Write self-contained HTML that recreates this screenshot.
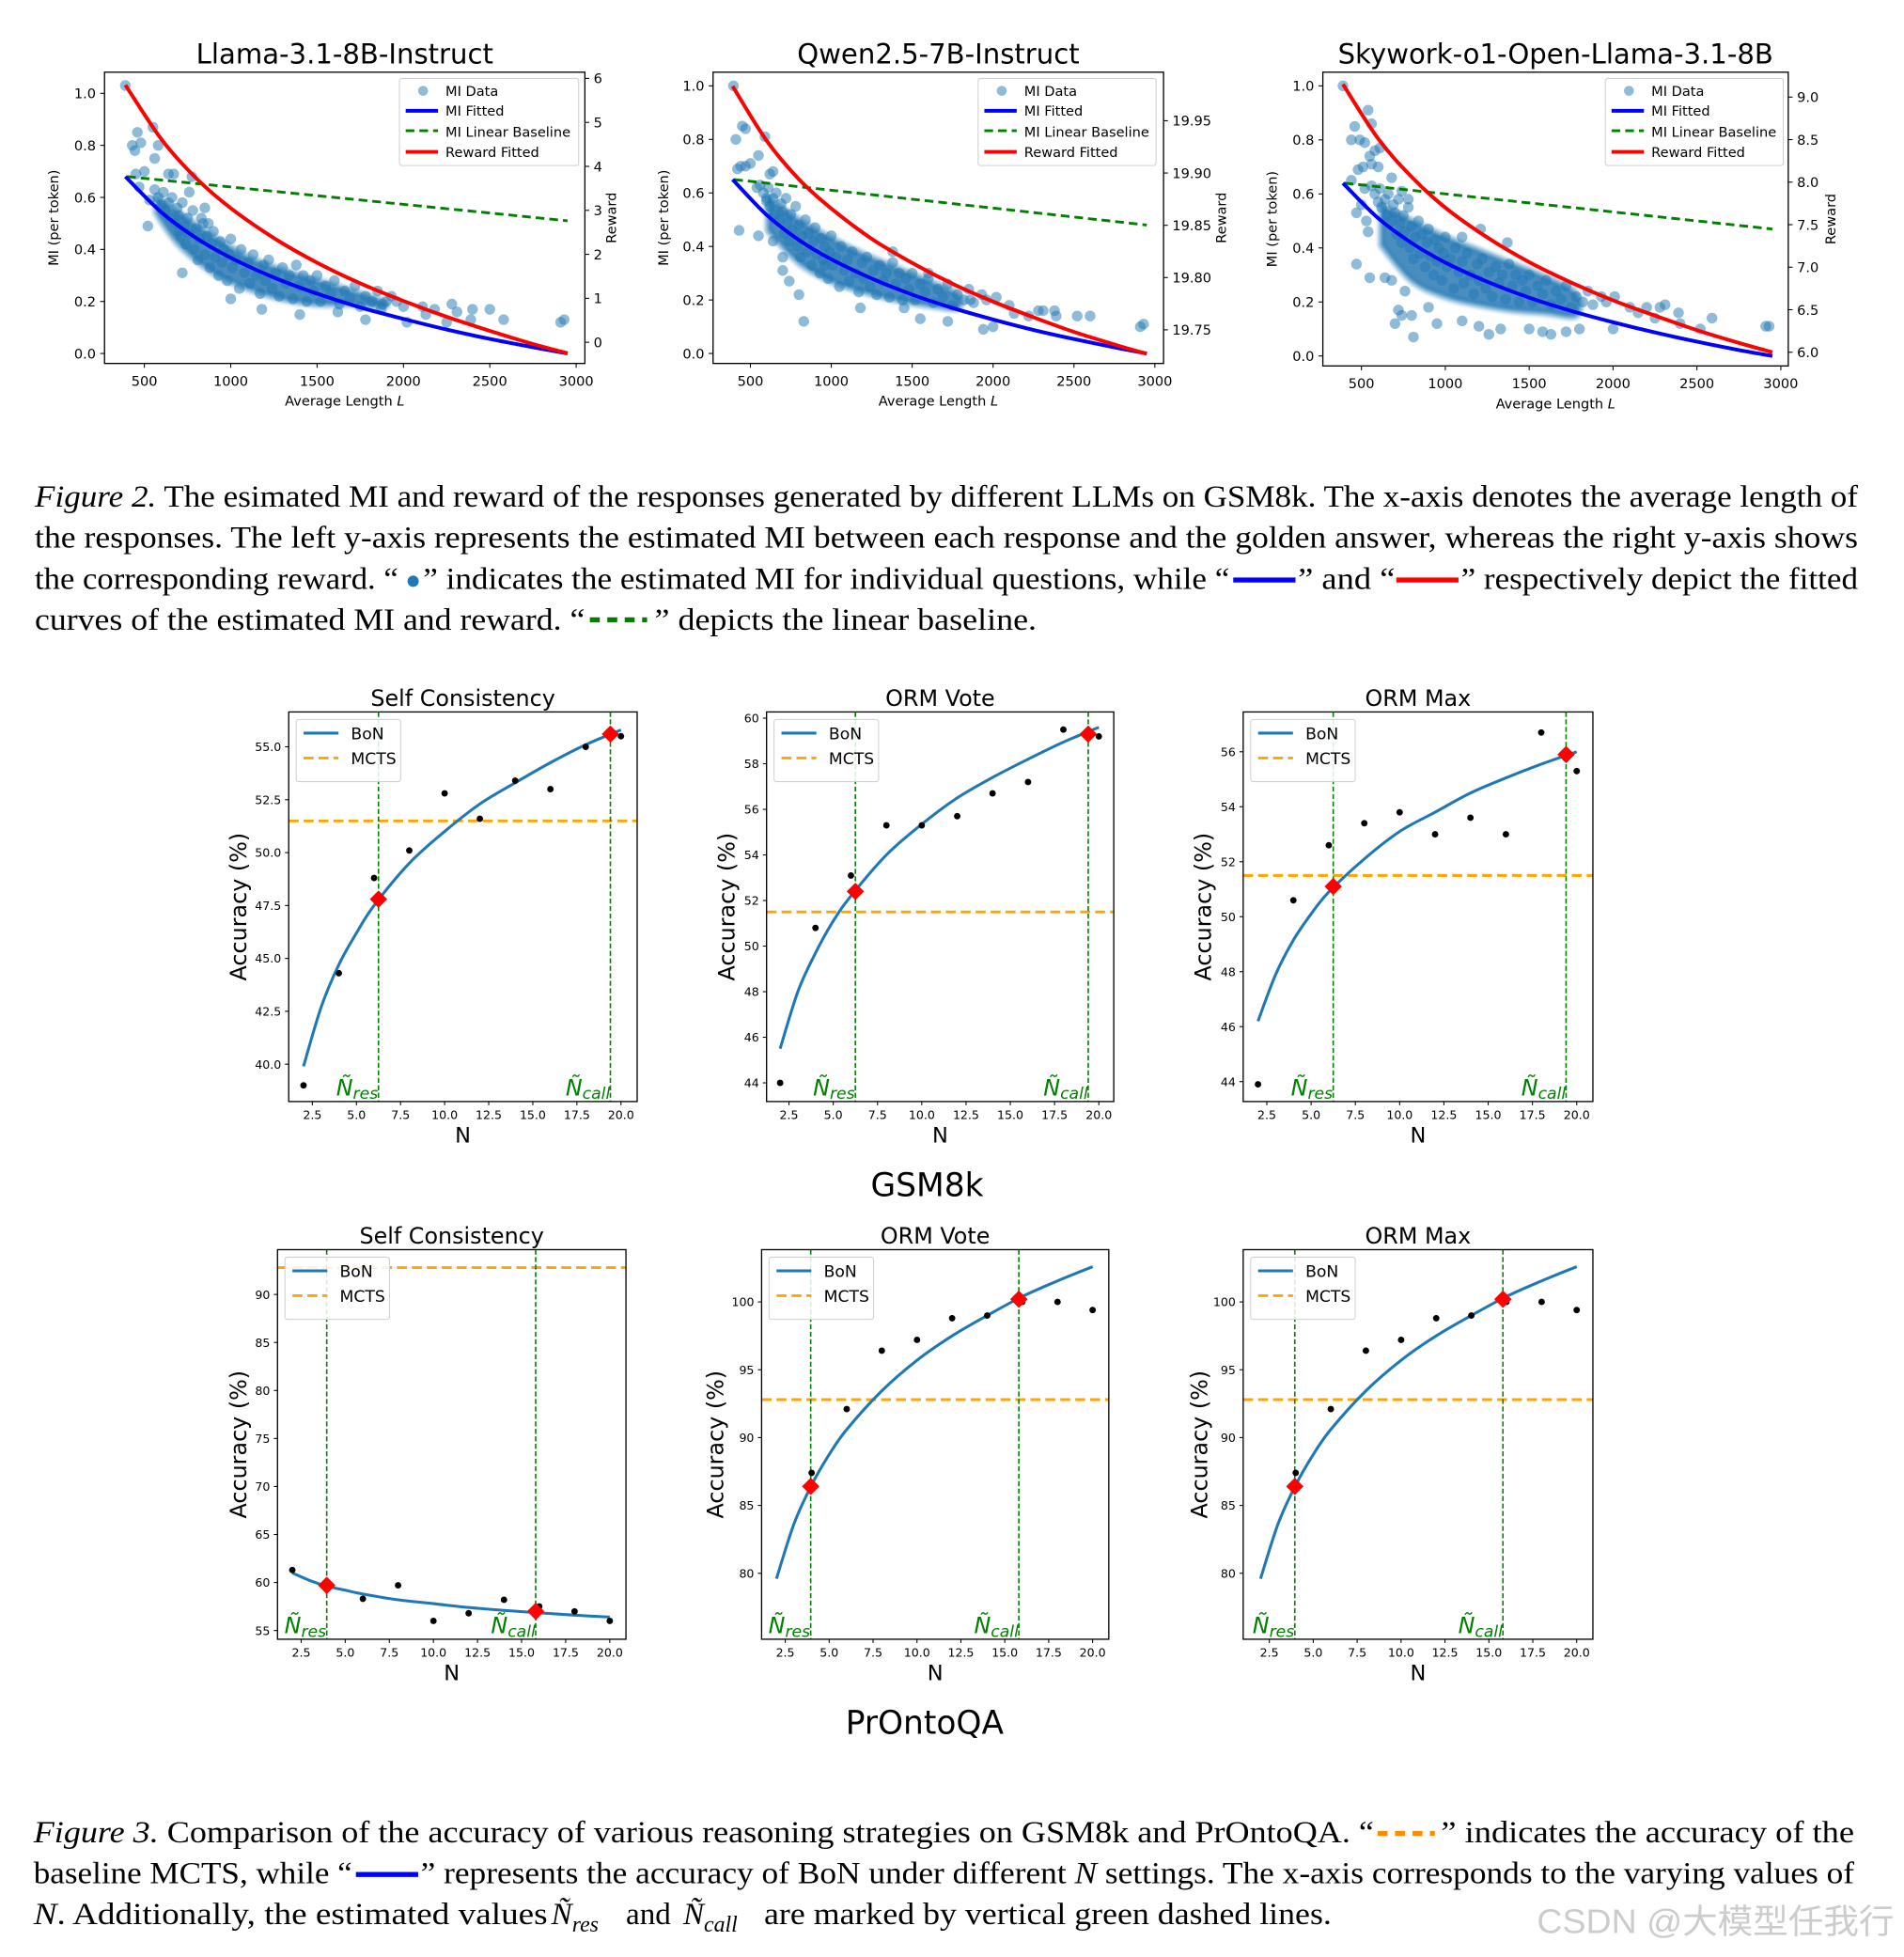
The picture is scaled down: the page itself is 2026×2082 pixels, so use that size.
<!DOCTYPE html>
<html><head><meta charset="utf-8">
<style>
html,body{margin:0;padding:0;background:#fff;}
svg{display:block;}
.tk{font-family:"DejaVu Sans","Liberation Sans",sans-serif;fill:#000;}
.cap{font-family:"Liberation Serif","DejaVu Serif",serif;font-size:25px;fill:#000;}
</style></head>
<body>
<svg id="fig" xmlns="http://www.w3.org/2000/svg" width="2026" height="2082" viewBox="0 0 1530 1572.3" preserveAspectRatio="none">
<defs><filter id="soft" x="-10%" y="-10%" width="120%" height="120%"><feGaussianBlur stdDeviation="1.2"/></filter></defs>
<rect x="0" y="0" width="1530" height="1573" fill="#fff"/>
<g id="captions">
  <text class="cap" x="28" y="407" textLength="1465" lengthAdjust="spacingAndGlyphs"><tspan font-style="italic">Figure 2.</tspan> The esimated MI and reward of the responses generated by different LLMs on GSM8k. The x-axis denotes the average length of</text>
  <text class="cap" x="28" y="440" textLength="1465" lengthAdjust="spacingAndGlyphs">the responses. The left y-axis represents the estimated MI between each response and the golden answer, whereas the right y-axis shows</text>
  <text class="cap" x="28" y="473" textLength="292" lengthAdjust="spacingAndGlyphs">the corresponding reward. “</text>
  <circle cx="332" cy="467" r="4.5" fill="#1f77b4"/>
  <text class="cap" x="340" y="473" textLength="648" lengthAdjust="spacingAndGlyphs">” indicates the estimated MI for individual questions, while “</text>
  <rect x="991" y="464" width="50" height="4" fill="#0000ff"/>
  <text class="cap" x="1043" y="473" textLength="78" lengthAdjust="spacingAndGlyphs">” and “</text>
  <rect x="1122" y="464" width="50" height="4" fill="#ff0000"/>
  <text class="cap" x="1174" y="473" textLength="319" lengthAdjust="spacingAndGlyphs">” respectively depict the fitted</text>
  <text class="cap" x="28" y="506" textLength="442" lengthAdjust="spacingAndGlyphs">curves of the estimated MI and reward. “</text>
  <line x1="474" y1="498" x2="520" y2="498" stroke="#008000" stroke-width="4" stroke-dasharray="8,6"/>
  <text class="cap" x="526" y="506" textLength="307" lengthAdjust="spacingAndGlyphs">” depicts the linear baseline.</text>

  <text class="cap" x="27" y="1480" textLength="1077" lengthAdjust="spacingAndGlyphs"><tspan font-style="italic">Figure 3.</tspan> Comparison of the accuracy of various reasoning strategies on GSM8k and PrOntoQA. “</text>
  <line x1="1107" y1="1473" x2="1153" y2="1473" stroke="#ff8c00" stroke-width="4" stroke-dasharray="8,6"/>
  <text class="cap" x="1158" y="1480" textLength="332" lengthAdjust="spacingAndGlyphs">” indicates the accuracy of the</text>
  <text class="cap" x="27" y="1513" textLength="256" lengthAdjust="spacingAndGlyphs">baseline MCTS, while “</text>
  <rect x="286" y="1504" width="50" height="4" fill="#0000ff"/>
  <text class="cap" x="338" y="1513" textLength="1152" lengthAdjust="spacingAndGlyphs">” represents the accuracy of BoN under different <tspan font-style="italic">N</tspan> settings. The x-axis corresponds to the varying values of</text>
  <text class="cap" x="27" y="1546" textLength="413" lengthAdjust="spacingAndGlyphs"><tspan font-style="italic">N</tspan>. Additionally, the estimated values</text>
  <text class="cap" x="443" y="1546"><tspan font-style="italic">Ñ</tspan><tspan font-style="italic" font-size="18" dy="6">res</tspan></text>
  <text class="cap" x="503" y="1546">and</text>
  <text class="cap" x="549" y="1546"><tspan font-style="italic">Ñ</tspan><tspan font-style="italic" font-size="18" dy="6">call</tspan></text>
  <text class="cap" x="614" y="1546" textLength="456" lengthAdjust="spacingAndGlyphs">are marked by vertical green dashed lines.</text>
  <text x="1235" y="1553" textLength="287" lengthAdjust="spacingAndGlyphs" font-size="27" fill="#cccccc" font-family="'Liberation Sans','Noto Sans CJK SC',sans-serif">CSDN @大模型任我行</text>
  <text class="tk" x="745" y="961" font-size="26" text-anchor="middle">GSM8k</text>
  <text class="tk" x="743" y="1393" font-size="26" text-anchor="middle">PrOntoQA</text>
</g>
</svg>
<script>
// ================= DATA: top MI charts =================
const fitL = [390, 600, 800, 1000, 1250, 1500, 1750, 2000, 2250, 2500, 2750, 2950];
const llamaMIFit = [0.68, 0.542, 0.444, 0.368, 0.292, 0.230, 0.177, 0.133, 0.092, 0.056, 0.024, 0.0];
const llamaRewardFit = [5.85, 4.61, 3.73, 3.05, 2.37, 1.81, 1.34, 0.94, 0.58, 0.26, -0.04, -0.25];
const llamaBaselineL = [400, 2950];
const llamaBaselineMI = [0.68, 0.51];
const qwenMIFit = [0.65, 0.518, 0.424, 0.352, 0.28, 0.22, 0.17, 0.127, 0.088, 0.054, 0.023, 0.0];
const qwenRewardFit = [19.983, 19.931, 19.894, 19.866, 19.837, 19.814, 19.794, 19.777, 19.762, 19.748, 19.736, 19.727];
const qwenBaselineL = [400, 2950];
const qwenBaselineMI = [0.65, 0.48];
const skyMIFit = [0.64, 0.51, 0.418, 0.346, 0.275, 0.216, 0.167, 0.125, 0.087, 0.053, 0.022, 0.0];
const skyRewardFit = [9.15, 8.51, 8.06, 7.70, 7.35, 7.06, 6.82, 6.61, 6.43, 6.26, 6.11, 6.0];
const skyBaselineL = [400, 2950];
const skyBaselineMI = [0.64, 0.47];

const coreL = [560,580,600,610,620,640,650,660,680,690,700,710,720,730,740,750,760,780,790,800,810,820,840,850,860,880,890,900,910,930,940,950,960,980,990,1000,1010,1030,1050,1060,1080,1100,1110,1130,1150,1170,1190,1200,1220,1240,1260,1280,1300,1320,1340,1360,1380,1400,1420,1440,1460,1480,1500,1520,1550,1580,1600,1630,1660,1690,1720,1750,1780,1820,1850,1880,1930,1960];
const coreMI = [0.63,0.6,0.57,0.62,0.55,0.58,0.52,0.6,0.5,0.56,0.53,0.45,0.58,0.49,0.42,0.52,0.46,0.55,0.4,0.48,0.36,0.44,0.5,0.38,0.45,0.33,0.42,0.47,0.37,0.3,0.43,0.35,0.4,0.28,0.38,0.44,0.33,0.36,0.25,0.4,0.31,0.35,0.27,0.38,0.3,0.23,0.34,0.28,0.36,0.25,0.31,0.22,0.33,0.27,0.3,0.21,0.34,0.26,0.3,0.2,0.28,0.24,0.3,0.2,0.26,0.23,0.28,0.19,0.24,0.21,0.26,0.18,0.22,0.2,0.24,0.19,0.22,0.2];

const llamaOutL = [390,430,445,460,480,550,560,580,500,450,470,530,520,640,670,760,775,850,830,720,700,870,2000,2020,2110,2130,2180,2250,2280,2310,2390,2400,2500,2580,2910,2930,1780,1870,1900,1400,1180,1000,1620];
const llamaOutMI = [1.03,0.80,0.78,0.85,0.81,0.87,0.75,0.80,0.70,0.69,0.64,0.59,0.49,0.69,0.69,0.62,0.68,0.56,0.52,0.31,0.47,0.50,0.18,0.12,0.18,0.15,0.17,0.12,0.19,0.16,0.13,0.17,0.17,0.13,0.12,0.13,0.13,0.17,0.20,0.15,0.17,0.21,0.16];
const qwenOutL = [395,410,450,470,590,420,440,470,500,550,540,600,620,640,430,550,640,700,740,800,830,960,700,1180,1450,1550,1720,1940,2000,2020,2100,2130,2220,2280,2310,2380,2390,2520,2600,2910,2930,1380,1600,1860];
const qwenOutMI = [1.0,0.8,0.85,0.84,0.81,0.69,0.7,0.7,0.71,0.74,0.62,0.58,0.67,0.68,0.46,0.44,0.42,0.36,0.27,0.22,0.12,0.33,0.31,0.17,0.17,0.13,0.12,0.09,0.1,0.21,0.18,0.15,0.14,0.16,0.16,0.16,0.14,0.14,0.14,0.1,0.11,0.38,0.3,0.2];
const skyOutL = [390,440,460,490,520,540,560,580,610,550,560,600,480,510,520,470,440,500,530,540,470,550,640,680,700,740,800,810,720,760,680,740,780,900,950,1100,1200,1260,1330,1500,1580,1630,1720,1800,2000,2010,2100,2150,2200,2250,2280,2310,2390,2400,2520,2590,2910,2930,1100,1210,1370];
const skyOutMI = [1.0,0.8,0.85,0.8,0.79,0.91,0.86,0.76,0.77,0.74,0.71,0.7,0.69,0.7,0.62,0.53,0.65,0.56,0.5,0.46,0.34,0.29,0.29,0.28,0.12,0.15,0.15,0.07,0.17,0.24,0.66,0.61,0.58,0.18,0.12,0.13,0.11,0.08,0.1,0.1,0.09,0.08,0.09,0.1,0.1,0.22,0.18,0.16,0.18,0.14,0.18,0.19,0.16,0.12,0.1,0.14,0.11,0.11,0.44,0.47,0.42];

// density band of the dense cloud (upper edge then lower edge)
const llamaBandL = [570,700,900,1100,1300,1500,1700,1880,1880,1700,1500,1300,1100,900,700,570];
const llamaBandMI = [0.6,0.54,0.45,0.37,0.32,0.28,0.24,0.2,0.18,0.19,0.19,0.21,0.25,0.31,0.42,0.54];
const qwenBandL = [610,800,1000,1200,1400,1600,1780,1780,1600,1400,1200,1000,800,610];
const qwenBandMI = [0.58,0.5,0.43,0.37,0.32,0.27,0.22,0.17,0.18,0.2,0.23,0.27,0.34,0.46];
const skyBandL = [620,800,1000,1200,1400,1600,1780,1780,1600,1400,1200,1000,800,620];
const skyBandMI = [0.56,0.5,0.44,0.39,0.34,0.29,0.23,0.15,0.16,0.17,0.19,0.22,0.28,0.41];

const topXTicks = [500, 1000, 1500, 2000, 2500, 3000];
const topMITicks = [0.0, 0.2, 0.4, 0.6, 0.8, 1.0];
const llamaRewardTicks = [0, 1, 2, 3, 4, 5, 6];
const qwenRewardTicks = [19.75, 19.80, 19.85, 19.90, 19.95];
const skyRewardTicks = [6.0, 6.5, 7.0, 7.5, 8.0, 8.5, 9.0];

// ================= DATA: bottom accuracy charts =================
const nValues = [2, 4, 6, 8, 10, 12, 14, 16, 18, 20];
const fitN = [2, 3, 4, 5, 6, 8, 10, 12, 14, 16, 18, 20];
const xTicksN = [2.5, 5.0, 7.5, 10.0, 12.5, 15.0, 17.5, 20.0];
const gsmSCDots = [39.0, 44.3, 48.8, 50.1, 52.8, 51.6, 53.4, 53.0, 55.0, 55.5];
const gsmSCFit = [39.9, 42.7, 44.7, 46.2, 47.5, 49.5, 51.0, 52.3, 53.3, 54.25, 55.1, 55.8];
const gsmSCTicks = [40.0, 42.5, 45.0, 47.5, 50.0, 52.5, 55.0];
const gsmVoteDots = [44.0, 50.8, 53.1, 55.3, 55.3, 55.7, 56.7, 57.2, 59.5, 59.2];
const gsmVoteFit = [45.5, 48.0, 49.7, 51.1, 52.2, 54.0, 55.35, 56.5, 57.4, 58.2, 58.95, 59.6];
const gsmVoteTicks = [44, 46, 48, 50, 52, 54, 56, 58, 60];
const gsmMaxDots = [43.9, 50.6, 52.6, 53.4, 53.8, 53.0, 53.6, 53.0, 56.7, 55.3];
const gsmMaxFit = [46.2, 47.9, 49.15, 50.1, 50.9, 52.1, 53.1, 53.8, 54.5, 55.05, 55.55, 56.0];
const gsmMaxTicks = [44, 46, 48, 50, 52, 54, 56];
const proSCDots = [61.3, 59.8, 58.3, 59.7, 56.0, 56.8, 58.2, 57.5, 57.0, 56.0];
const proSCFit = [61.0, 60.2, 59.6, 59.2, 58.8, 58.2, 57.8, 57.4, 57.1, 56.84, 56.6, 56.4];
const proSCTicks = [55, 60, 65, 70, 75, 80, 85, 90];
const proOrmN = [4, 6, 8, 10, 12, 14, 16, 18, 20];
const proOrmDots = [87.4, 92.1, 96.4, 97.2, 98.8, 99.0, 100.0, 100.0, 99.4];
const proOrmFit = [79.6, 83.65, 86.5, 88.75, 90.6, 93.45, 95.7, 97.5, 99.0, 100.4, 101.55, 102.6];
const proOrmTicks = [80, 85, 90, 95, 100];
const gsmMCTS = 51.5;
const proMCTS = 92.8;
const gsmNres = 6.25, gsmNcall = 19.4;
const proNres = 3.95, proNcall = 15.8;
const gsmSCDiamonds = [47.8, 55.6];
const gsmVoteDiamonds = [52.4, 59.3];
const gsmMaxDiamonds = [51.1, 55.9];
const proSCDiamonds = [59.7, 57.0];
const proOrmDiamonds = [86.4, 100.2];

// ================= rendering =================
const NS = 'http://www.w3.org/2000/svg';
const svg = document.getElementById('fig');
function mk(tag, attrs, parent, name, inter) {
  const e = document.createElementNS(NS, tag);
  for (const k in attrs) e.setAttribute(k, attrs[k]);
  
  
  (parent || svg).appendChild(e);
  return e;
}
function lin(d0, d1, p0, p1) { return v => p0 + (v - d0) * (p1 - p0) / (d1 - d0); }
function smoothPath(pts) {
  let d = 'M' + pts[0][0].toFixed(2) + ',' + pts[0][1].toFixed(2);
  for (let i = 0; i < pts.length - 1; i++) {
    const p0 = pts[i - 1] || pts[i], p1 = pts[i], p2 = pts[i + 1], p3 = pts[i + 2] || p2;
    const c1 = [p1[0] + (p2[0] - p0[0]) / 6, p1[1] + (p2[1] - p0[1]) / 6];
    const c2 = [p2[0] - (p3[0] - p1[0]) / 6, p2[1] - (p3[1] - p1[1]) / 6];
    d += ' C' + c1[0].toFixed(2) + ',' + c1[1].toFixed(2) + ' ' + c2[0].toFixed(2) + ',' + c2[1].toFixed(2) + ' ' + p2[0].toFixed(2) + ',' + p2[1].toFixed(2);
  }
  return d;
}
function txt(parent, x, y, s, size, name, extra) {
  const t = mk('text', Object.assign({ x: x, y: y, 'font-size': size, class: 'tk' }, extra || {}), parent, name, false);
  t.textContent = s;
  return t;
}

// ---------- top charts ----------
const topCharts = [
  { id: 'llama', title: 'Llama-3.1-8B-Instruct', box: [84, 58, 470, 292], xp: [116, 463], yl: [284, 75], yr: [0, 6, 275, 63],
    rTicks: llamaRewardTicks, rFmt: v => v.toFixed(0), mi: llamaMIFit, rw: llamaRewardFit, bL: llamaBaselineL, bM: llamaBaselineMI,
    coreL: coreL, coreMI: coreMI, outL: llamaOutL, outMI: llamaOutMI, bandL: llamaBandL, bandMI: llamaBandMI, yLabX: 47, rLabX: 495, leg: [321, 63, 144] },
  { id: 'qwen', title: 'Qwen2.5-7B-Instruct', box: [573, 58, 935, 292], xp: [603, 928], yl: [284, 69], yr: [19.75, 19.95, 265, 97],
    rTicks: qwenRewardTicks, rFmt: v => v.toFixed(2), mi: qwenMIFit, rw: qwenRewardFit, bL: qwenBaselineL, bM: qwenBaselineMI,
    coreL: coreL, coreMI: coreMI, outL: qwenOutL, outMI: qwenOutMI, bandL: qwenBandL, bandMI: qwenBandMI, yLabX: 537, rLabX: 985, leg: [786, 63, 143] },
  { id: 'skywork', title: 'Skywork-o1-Open-Llama-3.1-8B', box: [1063, 58, 1437, 294], xp: [1094, 1431], yl: [286, 69], yr: [6, 9, 283, 78],
    rTicks: skyRewardTicks, rFmt: v => v.toFixed(1), mi: skyMIFit, rw: skyRewardFit, bL: skyBaselineL, bM: skyBaselineMI,
    coreL: coreL, coreMI: coreMI, outL: skyOutL, outMI: skyOutMI, bandL: skyBandL, bandMI: skyBandMI, yLabX: 1026, rLabX: 1475, leg: [1290, 63, 143] }
];

topCharts.forEach(c => {
  const g = mk('g', {}, svg, c.id + '-mi-chart', false);
  const [L, T, R, B] = c.box;
  const X = lin(500, 3000, c.xp[0], c.xp[1]);
  const Y = lin(0, 1, c.yl[0], c.yl[1]);
  const YR = lin(c.yr[0], c.yr[1], c.yr[2], c.yr[3]);
  const clipId = c.id + '-clip';
  const cp = mk('clipPath', { id: clipId }, g, c.id + '-clip-path', false);
  mk('rect', { x: L, y: T, width: R - L, height: B - T }, cp, c.id + '-clip-rect', false);
  const plot = mk('g', { 'clip-path': 'url(#' + clipId + ')' }, g, c.id + '-plot-area', false);
  // dense cloud band
  mk('path', { d: smoothPath(c.bandL.map((l, i) => [X(l), Y(c.bandMI[i])])) + 'Z', fill: '#2a7ab5', 'fill-opacity': 0.85, stroke: '#1f77b4', 'stroke-width': 6, 'stroke-opacity': 0.45, 'stroke-linejoin': 'round', filter: 'url(#soft)' }, plot, c.id + '-mi-cloud-core', false);
  const sg = mk('g', { fill: '#1f77b4', 'fill-opacity': 0.5 }, plot, c.id + '-mi-data-points', false);
  c.coreL.forEach((l, i) => {
    mk('circle', { cx: X(l).toFixed(1), cy: Y(c.coreMI[i]).toFixed(1), r: 4.3 }, sg, c.id + '-mi-point', false);
  });
  c.outL.forEach((l, i) => {
    mk('circle', { cx: X(l).toFixed(1), cy: Y(c.outMI[i]).toFixed(1), r: 4.3 }, sg, c.id + '-mi-point', false);
  });
  mk('path', { d: 'M' + X(c.bL[0]) + ',' + Y(c.bM[0]) + ' L' + X(c.bL[1]) + ',' + Y(c.bM[1]), stroke: '#008000', 'stroke-width': 2.2, 'stroke-dasharray': '7,4', fill: 'none' }, plot, c.id + '-mi-linear-baseline', false);
  mk('path', { d: smoothPath(fitL.map((l, i) => [X(l), Y(c.mi[i])])), stroke: '#0000ff', 'stroke-width': 3, fill: 'none' }, plot, c.id + '-mi-fitted-curve', false);
  mk('path', { d: smoothPath(fitL.map((l, i) => [X(l), YR(c.rw[i])])), stroke: '#ff0000', 'stroke-width': 3, fill: 'none' }, plot, c.id + '-reward-fitted-curve', false);
  mk('rect', { x: L, y: T, width: R - L, height: B - T, fill: 'none', stroke: '#000', 'stroke-width': 1 }, g, c.id + '-axes-frame', false);
  topXTicks.forEach(v => {
    mk('line', { x1: X(v), y1: B, x2: X(v), y2: B + 3.5, stroke: '#000', 'stroke-width': 0.8 }, g, c.id + '-x-tick', false);
    txt(g, X(v), B + 18, String(v), 11, c.id + '-x-tick-label', { 'text-anchor': 'middle' });
  });
  topMITicks.forEach(v => {
    mk('line', { x1: L, y1: Y(v), x2: L - 3.5, y2: Y(v), stroke: '#000', 'stroke-width': 0.8 }, g, c.id + '-y-tick', false);
    txt(g, L - 7, Y(v) + 4, v.toFixed(1), 11, c.id + '-y-tick-label', { 'text-anchor': 'end' });
  });
  c.rTicks.forEach(v => {
    mk('line', { x1: R, y1: YR(v), x2: R + 3.5, y2: YR(v), stroke: '#000', 'stroke-width': 0.8 }, g, c.id + '-reward-tick', false);
    txt(g, R + 7, YR(v) + 4, c.rFmt(v), 11, c.id + '-reward-tick-label', {});
  });
  txt(g, (L + R) / 2, T - 7, c.title, 22, c.id + '-chart-title', { 'text-anchor': 'middle' });
  const xl = txt(g, (L + R) / 2, B + 34, 'Average Length ', 11, c.id + '-x-axis-title', { 'text-anchor': 'middle' });
  const it = document.createElementNS(NS, 'tspan'); it.setAttribute('font-style', 'italic'); it.textContent = 'L'; xl.appendChild(it);
  txt(g, 0, 0, 'MI (per token)', 11, c.id + '-left-y-axis-title', { 'text-anchor': 'middle', transform: 'translate(' + c.yLabX + ',' + ((T + B) / 2) + ') rotate(-90)' });
  txt(g, 0, 0, 'Reward', 11, c.id + '-right-y-axis-title', { 'text-anchor': 'middle', transform: 'translate(' + c.rLabX + ',' + ((T + B) / 2) + ') rotate(-90)' });
  // legend
  const [lx, ly, lw] = c.leg;
  const lg = mk('g', {}, g, c.id + '-legend', false);
  mk('rect', { x: lx, y: ly, width: lw, height: 70, rx: 2, fill: '#fff', 'fill-opacity': 0.8, stroke: '#d0d0d0', 'stroke-width': 0.8 }, lg, c.id + '-legend-box', false);
  mk('circle', { cx: lx + 19, cy: ly + 10, r: 4, fill: '#1f77b4', 'fill-opacity': 0.5 }, lg, c.id + '-legend-mi-data-marker', false);
  txt(lg, lx + 37, ly + 14, 'MI Data', 11, c.id + '-legend-mi-data', {});
  mk('line', { x1: lx + 5, y1: ly + 26, x2: lx + 31, y2: ly + 26, stroke: '#0000ff', 'stroke-width': 3 }, lg, c.id + '-legend-mi-fitted-swatch', false);
  txt(lg, lx + 37, ly + 30, 'MI Fitted', 11, c.id + '-legend-mi-fitted', {});
  mk('line', { x1: lx + 5, y1: ly + 42, x2: lx + 31, y2: ly + 42, stroke: '#008000', 'stroke-width': 2.2, 'stroke-dasharray': '7,4' }, lg, c.id + '-legend-baseline-swatch', false);
  txt(lg, lx + 37, ly + 47, 'MI Linear Baseline', 11, c.id + '-legend-baseline', {});
  mk('line', { x1: lx + 5, y1: ly + 59, x2: lx + 31, y2: ly + 59, stroke: '#ff0000', 'stroke-width': 3 }, lg, c.id + '-legend-reward-swatch', false);
  txt(lg, lx + 37, ly + 63, 'Reward Fitted', 11, c.id + '-legend-reward', {});
});

// ---------- bottom charts ----------
const accCharts = [
  { id: 'gsm8k-self-consistency', title: 'Self Consistency', box: [232, 572, 512, 885], xp: [251, 499], ym: [40, 55, 855, 600], ticks: gsmSCTicks, fmt: v => v.toFixed(1),
    dotN: nValues, dots: gsmSCDots, fit: gsmSCFit, mcts: gsmMCTS, nres: gsmNres, ncall: gsmNcall, dia: gsmSCDiamonds, yLabX: 198 },
  { id: 'gsm8k-orm-vote', title: 'ORM Vote', box: [616, 572, 895, 885], xp: [634, 883], ym: [44, 60, 870, 577], ticks: gsmVoteTicks, fmt: v => String(v),
    dotN: nValues, dots: gsmVoteDots, fit: gsmVoteFit, mcts: gsmMCTS, nres: gsmNres, ncall: gsmNcall, dia: gsmVoteDiamonds, yLabX: 590 },
  { id: 'gsm8k-orm-max', title: 'ORM Max', box: [999, 572, 1280, 885], xp: [1018, 1267], ym: [44, 56, 869, 604], ticks: gsmMaxTicks, fmt: v => String(v),
    dotN: nValues, dots: gsmMaxDots, fit: gsmMaxFit, mcts: gsmMCTS, nres: gsmNres, ncall: gsmNcall, dia: gsmMaxDiamonds, yLabX: 973 },
  { id: 'prontoqa-self-consistency', title: 'Self Consistency', box: [223, 1004, 503, 1317], xp: [242, 490], ym: [55, 90, 1310, 1040], ticks: proSCTicks, fmt: v => String(v),
    dotN: nValues, dots: proSCDots, fit: proSCFit, mcts: proMCTS, nres: proNres, ncall: proNcall, dia: proSCDiamonds, yLabX: 198 },
  { id: 'prontoqa-orm-vote', title: 'ORM Vote', box: [612, 1004, 891, 1317], xp: [631, 878], ym: [80, 100, 1264, 1046], ticks: proOrmTicks, fmt: v => String(v),
    dotN: proOrmN, dots: proOrmDots, fit: proOrmFit, mcts: proMCTS, nres: proNres, ncall: proNcall, dia: proOrmDiamonds, yLabX: 581 },
  { id: 'prontoqa-orm-max', title: 'ORM Max', box: [999, 1004, 1280, 1317], xp: [1020, 1267], ym: [80, 100, 1264, 1046], ticks: proOrmTicks, fmt: v => String(v),
    dotN: proOrmN, dots: proOrmDots, fit: proOrmFit, mcts: proMCTS, nres: proNres, ncall: proNcall, dia: proOrmDiamonds, yLabX: 970 }
];

accCharts.forEach(c => {
  const g = mk('g', {}, svg, c.id + '-chart', false);
  const [L, T, R, B] = c.box;
  const X = lin(2.5, 20, c.xp[0], c.xp[1]);
  const Y = lin(c.ym[0], c.ym[1], c.ym[2], c.ym[3]);
  const clipId = c.id + '-clip';
  const cp = mk('clipPath', { id: clipId }, g, c.id + '-clip-path', false);
  mk('rect', { x: L, y: T, width: R - L, height: B - T }, cp, c.id + '-clip-rect', false);
  const plot = mk('g', { 'clip-path': 'url(#' + clipId + ')' }, g, c.id + '-plot-area', false);
  mk('line', { x1: L, y1: Y(c.mcts), x2: R, y2: Y(c.mcts), stroke: '#ffa500', 'stroke-width': 2.2, 'stroke-dasharray': '8,4' }, plot, c.id + '-mcts-line', false);
  mk('line', { x1: X(c.nres), y1: T, x2: X(c.nres), y2: B, stroke: '#008000', 'stroke-width': 1.2, 'stroke-dasharray': '4,2' }, plot, c.id + '-n-res-line', false);
  mk('line', { x1: X(c.ncall), y1: T, x2: X(c.ncall), y2: B, stroke: '#008000', 'stroke-width': 1.2, 'stroke-dasharray': '4,2' }, plot, c.id + '-n-call-line', false);
  mk('path', { d: smoothPath(fitN.map((n, i) => [X(n), Y(c.fit[i])])), stroke: '#1f77b4', 'stroke-width': 2.3, fill: 'none' }, plot, c.id + '-bon-curve', false);
  c.dotN.forEach((n, i) => {
    mk('circle', { cx: X(n).toFixed(1), cy: Y(c.dots[i]).toFixed(1), r: 2.6, fill: '#000' }, plot, c.id + '-bon-point', false);
  });
  [c.nres, c.ncall].forEach((n, i) => {
    const cx = X(n), cy = Y(c.dia[i]), s = 7;
    mk('path', { d: 'M' + cx + ',' + (cy - s) + ' L' + (cx + s) + ',' + cy + ' L' + cx + ',' + (cy + s) + ' L' + (cx - s) + ',' + cy + 'Z', fill: '#ff0000' }, plot, c.id + '-estimate-diamond', false);
  });
  mk('rect', { x: L, y: T, width: R - L, height: B - T, fill: 'none', stroke: '#000', 'stroke-width': 1 }, g, c.id + '-axes-frame', false);
  xTicksN.forEach(v => {
    mk('line', { x1: X(v), y1: B, x2: X(v), y2: B + 3, stroke: '#000', 'stroke-width': 0.8 }, g, c.id + '-x-tick', false);
    txt(g, X(v), B + 14, v.toFixed(1), 9.5, c.id + '-x-tick-label', { 'text-anchor': 'middle' });
  });
  c.ticks.forEach(v => {
    mk('line', { x1: L, y1: Y(v), x2: L - 3, y2: Y(v), stroke: '#000', 'stroke-width': 0.8 }, g, c.id + '-y-tick', false);
    txt(g, L - 6, Y(v) + 3.5, c.fmt(v), 9.5, c.id + '-y-tick-label', { 'text-anchor': 'end' });
  });
  txt(g, (L + R) / 2, T - 5, c.title, 18, c.id + '-title', { 'text-anchor': 'middle' });
  txt(g, (L + R) / 2, B + 33, 'N', 17, c.id + '-x-axis-title', { 'text-anchor': 'middle' });
  txt(g, 0, 0, 'Accuracy (%)', 18, c.id + '-y-axis-title', { 'text-anchor': 'middle', transform: 'translate(' + c.yLabX + ',' + ((T + B) / 2) + ') rotate(-90)' });
  // N tilde labels
  const lr = txt(g, X(c.nres) - 34, B - 5, 'Ñ', 18, c.id + '-n-res-label', { 'font-style': 'italic' });
  lr.style.fill = '#008000';
  const s1 = document.createElementNS(NS, 'tspan'); s1.setAttribute('font-size', '13'); s1.setAttribute('dy', '3'); s1.textContent = 'res'; lr.appendChild(s1);
  const lc = txt(g, X(c.ncall) - 36, B - 5, 'Ñ', 18, c.id + '-n-call-label', { 'font-style': 'italic' });
  lc.style.fill = '#008000';
  const s2 = document.createElementNS(NS, 'tspan'); s2.setAttribute('font-size', '13'); s2.setAttribute('dy', '3'); s2.textContent = 'call'; lc.appendChild(s2);
  // legend
  const lg = mk('g', {}, g, c.id + '-legend', false);
  mk('rect', { x: L + 6, y: T + 6, width: 84, height: 50, rx: 2, fill: '#fff', 'fill-opacity': 0.85, stroke: '#d0d0d0', 'stroke-width': 0.8 }, lg, c.id + '-legend-box', false);
  mk('line', { x1: L + 12, y1: T + 17, x2: L + 40, y2: T + 17, stroke: '#1f77b4', 'stroke-width': 2.3 }, lg, c.id + '-legend-bon-swatch', false);
  txt(lg, L + 50, T + 22, 'BoN', 13, c.id + '-legend-bon', {});
  mk('line', { x1: L + 12, y1: T + 37, x2: L + 40, y2: T + 37, stroke: '#ffa500', 'stroke-width': 2.2, 'stroke-dasharray': '8,4' }, lg, c.id + '-legend-mcts-swatch', false);
  txt(lg, L + 50, T + 42, 'MCTS', 13, c.id + '-legend-mcts', {});
});
</script>
</body></html>
